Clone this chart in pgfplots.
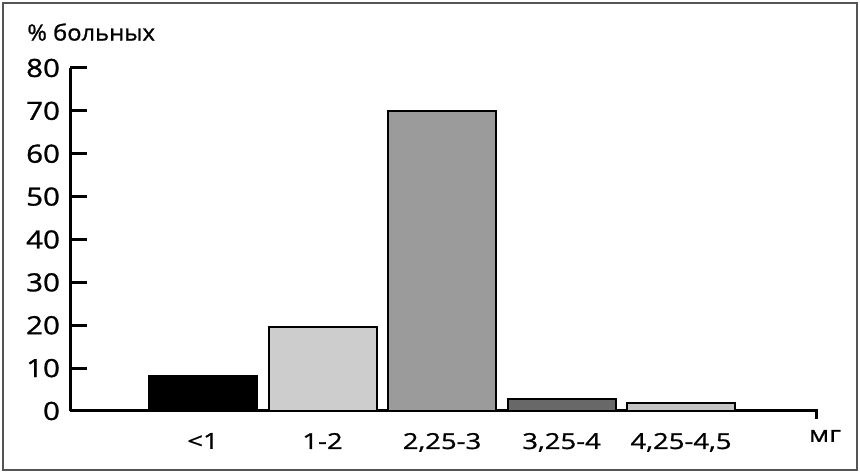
\documentclass[border=0pt]{standalone}
\usepackage{fontspec}
\setmainfont{Open Sans}
\newfontfamily\tickfont[FakeStretch=1.18,FakeBold=1.2]{Open Sans}
\newfontfamily\catfont[FakeStretch=1.25,FakeBold=1]{Open Sans}
\newfontfamily\labelfont[FakeStretch=1.06,FakeBold=1]{Open Sans}
\usepackage{pgfplots}
\pgfplotsset{compat=1.18}
\definecolor{barA}{HTML}{000000}
\definecolor{barB}{HTML}{CDCDCD}
\definecolor{barC}{HTML}{9B9B9B}
\definecolor{barD}{HTML}{686868}
\definecolor{barE}{HTML}{C4C4C4}
\definecolor{frame}{HTML}{555555}

\begin{document}
\begin{tikzpicture}
\path[use as bounding box] (0,0) rectangle (430pt,-237pt);
\draw[line width=1pt,frame] (1.5pt,-1.5pt) rectangle (428.5pt,-235pt);
\node[anchor=north west,inner sep=0pt,font=\labelfont\fontsize{11.2}{13}\selectfont] at (13.5pt,-11.5pt) {\% больных};
\begin{axis}[
  at={(35pt,-205.5pt)},anchor=south west,
  scale only axis,width=374pt,height=171.5pt,
  xmin=-1.113,xmax=5.146,ymin=0,ymax=80,
  axis lines*=left,axis line style={line width=1.5pt},
  ytick={0,10,...,80},tick align=inside,major tick length=8.5pt,
  major y tick style={line width=1.5pt,black},
  xtick={0,1,2,3,4},
  xticklabels={<1,1-2,{2,25-3},{3,25-4},{4,25-4,5}},
  major x tick style={draw=none},
  extra x ticks={5.13},extra x tick labels={},
  every extra x tick/.style={major tick length=4pt,major x tick style={draw=black,line width=1.5pt}},
  yticklabel style={font=\tickfont\fontsize{12.5}{14}\selectfont,xshift=-1.5pt},
  xticklabel style={font=\catfont\fontsize{11}{13}\selectfont,yshift=1pt},
  /pgf/number format/assume math mode=true,
  xlabel={мг},
  xlabel style={at={(rel axis cs:1,0)},anchor=north,font=\catfont\fontsize{11}{13}\selectfont,xshift=3.5pt,yshift=-6pt},
  ybar,bar width=0.904,bar shift=0pt,
  every axis plot/.append style={draw=black,line width=1pt},
]
\addplot[fill=barA] coordinates {(0,8.1)};
\addplot[fill=barB] coordinates {(1,19.6)};
\addplot[fill=barC] coordinates {(2,70)};
\addplot[fill=barD] coordinates {(3,2.8)};
\addplot[fill=barE] coordinates {(4,1.8)};
\end{axis}
\end{tikzpicture}
\end{document}
